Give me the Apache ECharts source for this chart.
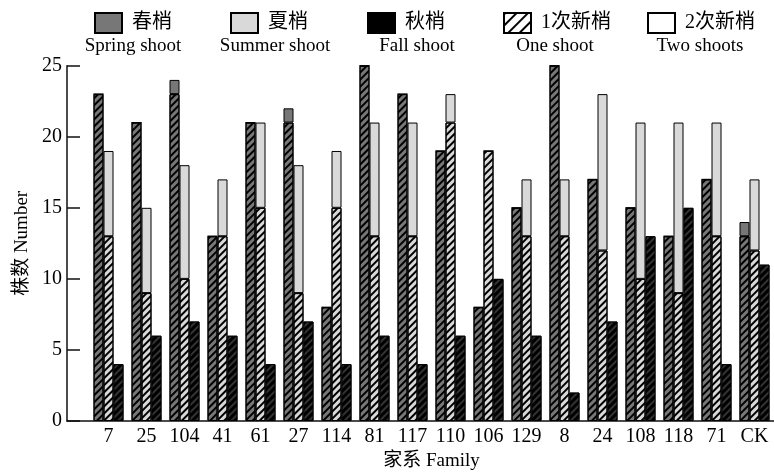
<!DOCTYPE html>
<html>
<head>
<meta charset="utf-8">
<script src="https://cdn.jsdelivr.net/npm/echarts@6/dist/echarts.min.js"></script>
<style>html,body{margin:0;padding:0;background:#fff}#c{width:774px;height:474px}</style>
</head>
<body>
<div id="c"></div>
<script>
// ---- data ----
var categories = ['7','25','104','41','61','27','114','81','117','110','106','129','8','24','108','118','71','CK'];
var springOne  = [23,21,23,13,21,21,8,25,23,19,8,15,25,17,15,13,17,13];
var springTwo  = [0,0,1,0,0,1,0,0,0,0,0,0,0,0,0,0,0,1];
var summerOne  = [13,9,10,13,15,9,15,13,13,21,19,13,13,12,10,9,13,12];
var summerTwo  = [6,6,8,4,6,9,4,8,8,2,0,4,4,11,11,12,8,5];
var fallShoot  = [4,6,7,6,4,7,4,6,4,6,10,6,2,7,13,15,4,11];
var legendCn   = ['春梢','夏梢','秋梢','1次新梢','2次新梢'];
var legendEn   = ['Spring shoot','Summer shoot','Fall shoot','One shoot','Two shoots'];
var yTicks     = [0,5,10,15,20,25];

// ---- styles ----
var SERIF = '"Liberation Serif","Noto Sans CJK SC",serif';
var DARK = '#777777', LIGHT = '#d9d9d9', BLACK = '#000';
function hatch(color){ return {symbol:'rect', symbolSize:1, dashArrayX:[1,0], dashArrayY:[1.2,2.2], rotation:-Math.PI/4, color:color}; }
var legendPos = [94, 230, 367, 503, 647];
var legendEnX = [133, 275, 417, 555, 700];
var legendColors = [DARK, LIGHT, BLACK, '#fff', '#fff'];

var chart = echarts.init(document.getElementById('c'), null, {renderer:'canvas'});

var legends = legendCn.map(function(n, i){
  return {data:[n], left:legendPos[i], top:12, padding:0, icon:'rect', itemWidth:27, itemHeight:20,
    selectedMode:false, textStyle:{fontFamily:SERIF, fontSize:20, color:'#000', padding:[0,0,0,5]}};
});

var dummySeries = legendCn.map(function(n, i){
  var st = {color:legendColors[i], borderColor:'#000', borderWidth:1};
  if (i === 3) st.decal = {symbol:'rect', symbolSize:1, dashArrayX:[1,0], dashArrayY:[1.2,5.5], rotation:-Math.PI/4, color:'#000'};
  return {name:n, type:'bar', xAxisIndex:1, yAxisIndex:1, data:[], itemStyle:st};
});

var barBase = {type:'bar', xAxisIndex:0, yAxisIndex:0, barWidth:10, barGap:'0%', animation:false};
function bar(name, data, stack, color, decalColor){
  var s = Object.assign({}, barBase, {name:name, data:data,
    itemStyle:{color:color, borderColor:'#000', borderWidth:1}});
  if (stack) s.stack = stack;
  if (decalColor) s.itemStyle.decal = hatch(decalColor);
  return s;
}

var option = {
  backgroundColor:'#fff',
  animation:false,
  legend: legends,
  graphic: legendEn.map(function(t, i){
    return {type:'text', x:legendEnX[i], y:46, style:{text:t, x:0, y:0, textAlign:'center', textVerticalAlign:'middle',
      font:'19px "Liberation Serif", serif', fill:'#000'}};
  }),
  grid: [
    {left:89.5, right:0.5, top:65.7, bottom:53, containLabel:false, outerBoundsMode:'none'},
    {left:67, right:0, top:65.7, bottom:53, containLabel:false, outerBoundsMode:'none'}
  ],
  xAxis: [
    {type:'category', gridIndex:0, data:categories, axisLine:{show:false}, axisTick:{show:false},
      axisLabel:{interval:0, margin:6, fontFamily:SERIF, fontSize:20, color:'#000'},
      name:'家系 Family', nameLocation:'middle', nameGap:27,
      nameTextStyle:{fontFamily:SERIF, fontSize:19, color:'#000'}},
    {type:'value', gridIndex:1, min:0, max:1, axisLine:{show:true, lineStyle:{color:'#111', width:1.5}},
      axisTick:{show:false}, axisLabel:{show:false}, splitLine:{show:false}}
  ],
  yAxis: [
    {type:'value', gridIndex:0, min:0, max:25, interval:5, show:false, splitLine:{show:false}},
    {type:'value', gridIndex:1, min:yTicks[0], max:yTicks[yTicks.length-1], interval:5,
      axisLine:{show:true, lineStyle:{color:'#111', width:1.5}},
      axisTick:{show:true, inside:true, length:13, lineStyle:{color:'#111', width:1.5}},
      axisLabel:{margin:5, fontFamily:SERIF, fontSize:20, color:'#000'},
      splitLine:{show:false},
      name:'株数 Number', nameLocation:'middle', nameGap:34,
      nameTextStyle:{fontFamily:SERIF, fontSize:19, color:'#000'}}
  ],
  series: [
    bar('春梢 1次新梢', springOne, 'spring', DARK, '#000'),
    bar('春梢 2次新梢', springTwo, 'spring', DARK, null),
    bar('夏梢 1次新梢', summerOne, 'summer', LIGHT, '#000'),
    bar('夏梢 2次新梢', summerTwo, 'summer', LIGHT, null),
    bar('秋梢 Fall', fallShoot, null, BLACK, '#333')
  ].concat(dummySeries)
};
chart.setOption(option);
</script>
</body>
</html>
